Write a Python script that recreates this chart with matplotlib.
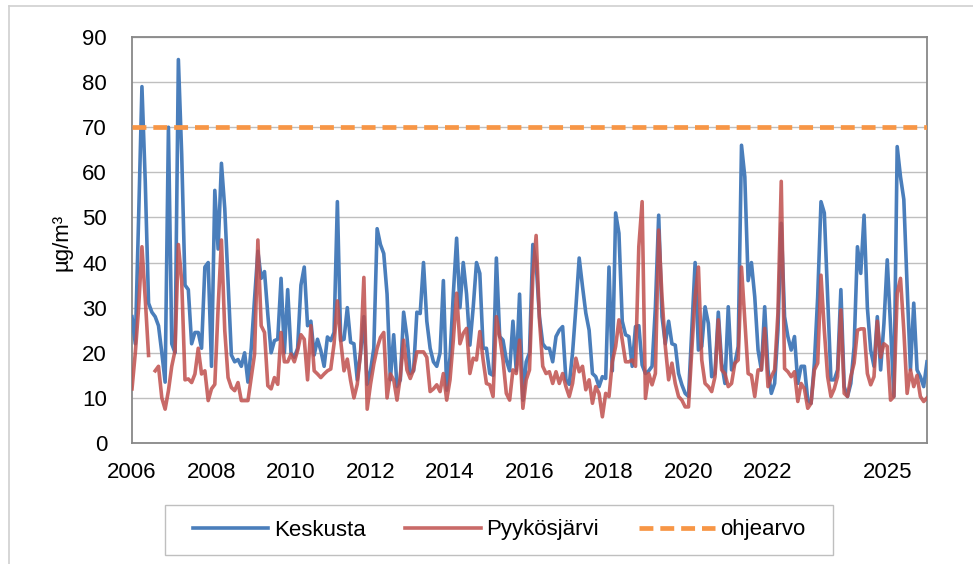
import numpy as np
import matplotlib
matplotlib.use('Agg')
import matplotlib.pyplot as plt
from matplotlib.lines import Line2D
from matplotlib.patches import Rectangle

plt.rcParams['font.family'] = ['Liberation Sans', 'DejaVu Sans']
plt.rcParams['lines.scale_dashes'] = False

nan = np.nan
# Monthly values, Jan 2006 ... Jan 2026
keskusta = [
    28, 22, 50, 79, 58, 31, 29, 28, 26, 20, 13.5, 70,
    22, 20, 85, 64, 35, 34, 22, 24.5, 24.5, 21, 39, 40,
    17, 56, 43, 62, 52, 36, 19.5, 18, 18.5, 17, 20, 13.5,
    21, 32, 42.5, 36.5, 38, 28.5, 20, 22.7, 23, 36.5, 20, 34,
    20, 19, 21, 35, 39, 26, 27, 19.5, 23, 20.5, 17, 23.5,
    22.7, 24.5, 53.5, 22.7, 23, 30, 22.3, 22, 14, 20, 28, 13,
    16, 21, 47.5, 44, 42, 33, 14, 24, 12.5, 14, 29, 23.6,
    15.4, 16, 29, 28.7, 40, 27, 21, 18, 17, 20, 36, 11.7,
    19, 33, 45.4, 30, 40, 33, 21.7, 30, 40, 37.6, 21, 21,
    15.4, 15, 41, 23.6, 22.8, 18.4, 16, 27, 16, 33, 9.5, 18,
    20, 44, 40, 28, 22, 21, 21, 18, 23.6, 25, 25.8, 14,
    13, 20, 30, 41, 34.7, 28.8, 25, 15.4, 14.7, 12.5, 14.7, 14.3,
    39, 16, 51, 46.5, 27, 24, 23.6, 17, 25.8, 26, 17.3, 15.4,
    16, 17, 30, 50.5, 28, 22, 27, 22, 21.7, 15.4, 12.9, 11,
    10.3, 25, 40, 20.6, 21.4, 30.2, 26.5, 14.7, 15.4, 29, 17.7, 13.2,
    30.2, 16.2, 17.7, 21.4, 66, 59, 36, 40, 32.4, 20.6, 16.2, 30.2,
    16.2, 11, 13.2, 25, 48.7, 28, 23.6, 20.6, 23.6, 13.2, 17, 17,
    9.5, 8.8, 17.7, 32.4, 53.5, 51, 32.4, 14, 14, 16.2, 34, 12.5,
    10.3, 13.2, 21.4, 43.5, 37.6, 50.5, 30, 20.6, 17, 28, 16.2, 26.5,
    40.6, 25.8, 10.3, 65.7, 59, 54, 34.7, 16.2, 31, 16.2, 14.7, 12.5,
    18,
]
pyykosjarvi = [
    12, 20, 30, 43.5, 32, 19.4, nan, 16, 17, 10, 7.5, 11.6,
    17, 20.5, 44, 36, 14, 14.2, 13.4, 15.3, 21, 15.3, 16, 9.4,
    12, 13, 30, 45, 25, 14.5, 12.3, 11.6, 13.4, 9.4, 9.4, 9.4,
    14.5, 19.7, 45, 26, 24.5, 12.7, 12, 14.5, 13, 24.5, 18, 18,
    19.7, 18, 20.5, 24, 23, 14, 26, 16, 15.3, 14.5, 15.3, 16,
    16.4, 22, 31.5, 22.7, 16, 18.6, 13.8, 10, 13, 20, 36.7, 7.5,
    13, 17.5, 21, 23.4, 24.5, 10, 15.3, 14, 9.5, 14.7, 22.8, 16.2,
    14.3, 16.2, 20.2, 20.2, 20.2, 19, 11.4, 12, 12.9, 11.4, 15.4, 9.5,
    14, 22.8, 33.2, 22, 24.3, 25.4, 15.4, 18.8, 18.4, 24.7, 18.4, 13.2,
    12.9, 10.3, 28, 23.6, 18.4, 11, 9.5, 16.2, 15.4, 22.8, 7.7, 14,
    16.2, 36.9, 46, 27.3, 17, 15.4, 15.8, 13.2, 15.8, 13.2, 15.4, 12.5,
    10.3, 13.2, 18.8, 15.8, 17, 11.8, 14, 8.8, 12.5, 11, 5.8, 11,
    10.3, 18, 21.4, 27.3, 22.8, 18, 18, 18.4, 17, 43.5, 53.5, 9.9,
    15.4, 12.9, 15.4, 47.2, 32.4, 21.4, 14, 17.7, 13.2, 10.3, 9.5, 8,
    8, 20.6, 32.4, 39, 18.4, 13.2, 12.5, 11.4, 14.7, 27.3, 16.2, 15.4,
    12.5, 13.2, 17.7, 18.4, 39, 27.3, 15.4, 15, 10.3, 16.2, 16.2, 25.4,
    12.5, 14.7, 16.2, 28.8, 58, 16.5, 15.8, 14.7, 15.8, 9.2, 13.2, 12,
    7.7, 8.8, 16.2, 17.7, 37.2, 25, 14.7, 10.3, 12, 14.7, 29.5, 11,
    10.3, 14.7, 17.7, 25, 25.3, 25.3, 15.4, 12.9, 14.7, 27, 19, 22,
    21.4, 9.5, 10.3, 33.2, 36.5, 25, 11, 16.2, 12.5, 15, 10.3, 9.2,
    10,
]
ohjearvo = 70
tick_pos = [0, 24, 48, 72, 96, 120, 144, 168, 192, 228]
tick_labels = ['2006', '2008', '2010', '2012', '2014', '2016', '2018',
               '2020', '2022', '2025']
y_ticks = [0, 10, 20, 30, 40, 50, 60, 70, 80, 90]
series_names = ['Keskusta', 'Pyykösjärvi', 'ohjearvo']

c_blue = '#4A7EBB'
c_red = '#C0504D'
c_orange = '#F79646'
LW = 2.6
DASH = (10, 5)

W, H = 973, 564
fig = plt.figure(figsize=(W / 100, H / 100), dpi=100)
ax = fig.add_axes([132 / W, 1 - 443 / H, 795 / W, 406 / H])

x = np.arange(len(keskusta))
ax.plot(x, keskusta, color=c_blue, lw=LW, solid_joinstyle='round', zorder=3)
ax.plot(np.arange(len(pyykosjarvi)), pyykosjarvi, color=c_red, alpha=0.85,
        lw=LW, solid_joinstyle='round', zorder=4)
ax.plot(x, np.full(len(x), ohjearvo, dtype=float), color=c_orange, lw=3.4,
        dashes=DASH, zorder=5)

ax.set_xlim(0, len(keskusta) - 1)
ax.set_ylim(0, 90)
ax.set_yticks(y_ticks)
ax.set_xticks(tick_pos)
ax.set_xticklabels(tick_labels)
ax.yaxis.grid(True, color='#BFBFBF', lw=1.0)
ax.set_axisbelow(True)
for s in ax.spines.values():
    s.set_color('#888888')
    s.set_linewidth(1.3)
ax.tick_params(axis='both', length=0, labelsize=16, colors='#000000')
ax.tick_params(axis='y', pad=18)
ax.tick_params(axis='x', pad=14)

fig.text(62 / W, 1 - 242 / H, 'µg/m³', rotation=90, ha='center', va='center',
         fontsize=16)

handles = [Line2D([], [], color=c_blue, lw=LW),
           Line2D([], [], color=c_red, lw=LW, alpha=0.85),
           Line2D([], [], color=c_orange, lw=3.4, dashes=DASH)]
leg = fig.legend(handles, series_names, loc='center',
                 bbox_to_anchor=(499 / W, 1 - 530 / H), ncol=3, fontsize=16,
                 frameon=False, handlelength=3.4, handletextpad=0.25,
                 columnspacing=1.8)
fig.add_artist(Rectangle((165 / W, 1 - 555 / H), (833 - 165) / W, 50 / H,
                         transform=fig.transFigure, fill=False,
                         edgecolor='#BFBFBF', lw=1.0))

# outer chart border
fig.add_artist(Line2D([9 / W, 1], [1 - 6 / H, 1 - 6 / H], color='#D0D0D0', lw=1.2))
fig.add_artist(Line2D([9 / W, 9 / W], [0, 1 - 6 / H], color='#D0D0D0', lw=1.2))

fig.savefig('out.png', dpi=100)
